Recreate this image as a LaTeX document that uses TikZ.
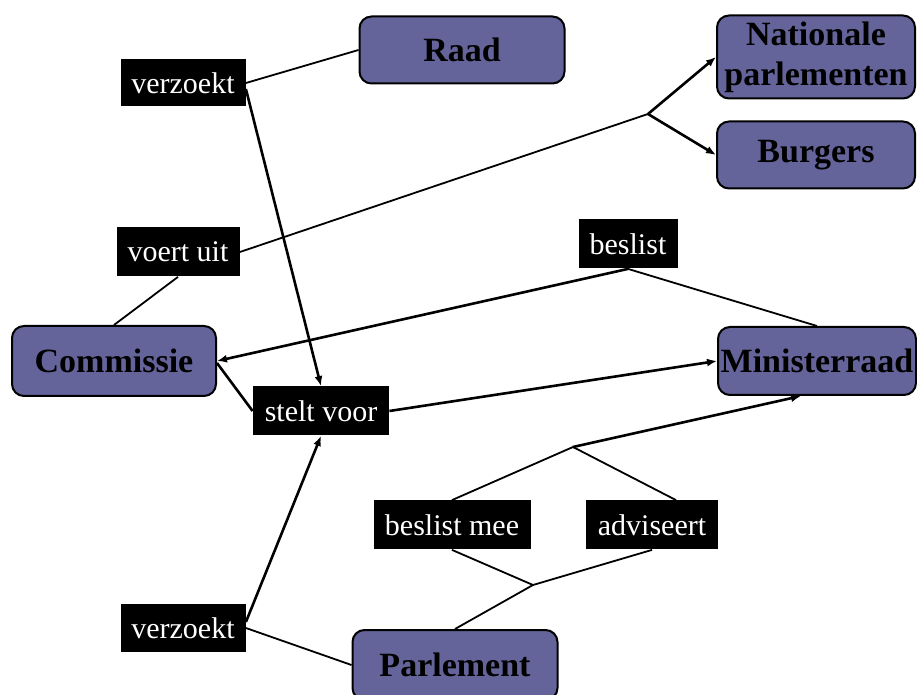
\documentclass[tikz,border=0pt]{standalone}
\usepackage{fontspec}
\setmainfont{Liberation Serif}
\usetikzlibrary{arrows.meta,positioning}
\definecolor{eubox}{RGB}{100,100,155}
\tikzset{
  inst/.style={draw=black, line width=1pt, rounded corners=6pt, fill=eubox, align=center, inner sep=0pt, font=\fontsize{17}{20}\selectfont\bfseries},
  act/.style={fill=black, text=white, inner sep=0pt, font=\fontsize{15}{17}\selectfont},
  link/.style={line width=0.9pt},
  line/.style={-{Latex[length=5pt,width=4pt]}, line width=1.3pt}
}

\begin{document}
\begin{tikzpicture}[x=0.5pt, y=-0.5pt]
  \clip (0,0) rectangle (917,695);
  \fill[white] (0,0) rectangle (917,695);

  % institutions
  \node[inst, minimum width=102.5pt, minimum height=33.5pt] (raad) at (462,50) {Raad};
  \node[inst, minimum width=99pt, minimum height=41.5pt] (natpar) at (816,57) {Nationale\\parlementen};
  \node[inst, minimum width=99pt, minimum height=33.5pt] (burgers) at (816,155) {Burgers};
  \node[inst, minimum width=102pt, minimum height=35pt] (commissie) at (114,361) {Commissie};
  \node[inst, minimum width=99pt, minimum height=34pt] (minister) at (817,361) {Ministerraad};
  \node[inst, minimum width=102.5pt, minimum height=35pt] (parlement) at (455,665) {Parlement};

  % actions
  \node[act, minimum width=62.5pt, minimum height=23.5pt] (verz1) at (183,83) {verzoekt};
  \node[act, minimum width=61.5pt, minimum height=24.5pt] (voert) at (178,252) {voert uit};
  \node[act, minimum width=49.5pt, minimum height=24.5pt] (beslist) at (628,244) {beslist};
  \node[act, minimum width=68pt, minimum height=24.5pt] (stelt) at (321,411) {stelt voor};
  \node[act, minimum width=78.5pt, minimum height=24.5pt] (mee) at (452,525) {beslist mee};
  \node[act, minimum width=66pt, minimum height=24.5pt] (advis) at (652,525) {adviseert};
  \node[act, minimum width=62.5pt, minimum height=24pt] (verz2) at (183,628) {verzoekt};

  % branch points
  \coordinate (j1) at (648,114);
  \coordinate (j2) at (573,447);
  \coordinate (j3) at (533,585);

  \draw[link] (verz1.east) -- (raad.west);
  \draw[line] ([yshift=-3pt]verz1.east) -- (stelt.north);
  \draw[link] (voert.east) -- (j1);
  \draw[line] (j1) -- (natpar.west);
  \draw[line] (j1) -- (burgers.west);
  \draw[link] (voert.south) -- (commissie.north);
  \draw[link] (beslist.south) -- (minister.north);
  \draw[line] (beslist.south) -- (commissie.east);
  \draw[link, line width=1.3pt] (stelt.west) -- ([yshift=-1pt]commissie.east);
  \draw[line] (stelt.east) -- (minister.west);
  \draw[line] ([yshift=3pt]verz2.east) -- (stelt.south);
  \draw[link] (verz2.east) -- (parlement.west);
  \draw[link] (mee.north) -- (j2);
  \draw[link] ([xshift=12pt]advis.north) -- (j2);
  \draw[line] (j2) -- ([xshift=-8pt]minister.south);
  \draw[link] (mee.south) -- (j3);
  \draw[link] (advis.south) -- (j3);
  \draw[link] (j3) -- (parlement.north);
\end{tikzpicture}
\end{document}
